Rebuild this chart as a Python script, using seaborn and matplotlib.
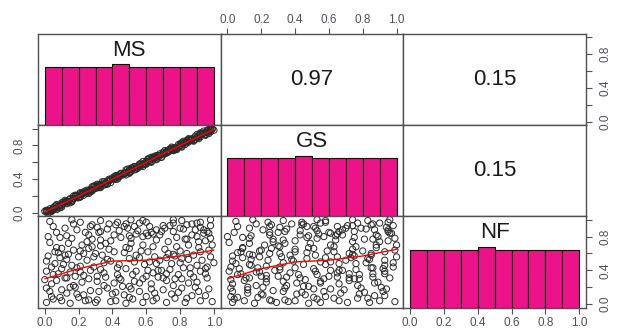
import pandas as pd
import seaborn as sns
import matplotlib.pyplot as plt

sns.set_theme(style="white")
plt.rcParams["font.family"] = ["Liberation Sans", "DejaVu Sans"]

var_names = ["MS", "GS", "NF"]
corr_labels = {("MS", "GS"): "0.97", ("MS", "NF"): "0.15", ("GS", "NF"): "0.15"}

# histogram bins and counts
bin_edges = [0.0, 0.1, 0.2, 0.3, 0.4, 0.5, 0.6, 0.7, 0.8, 0.9, 1.0]
ms_counts = [20, 20, 20, 20, 21, 20, 20, 20, 20, 20]
gs_counts = [20, 20, 20, 20, 21, 20, 20, 20, 20, 20]
nf_counts = [20, 20, 20, 20, 21, 20, 20, 20, 20, 20]

# scatter values
ms = [.03, .16, .21, .28, .33, .43, .48, .51, .56, .58, .70, .76, .81, .87, .92, .98, .98,
      .12, .07, .19, .26, .31, .33, .37, .42, .44, .49, .53, .54, .60, .63, .66, .76, .82, .84, .89, .92, .96, .94,
      .03, .09, .13, .16, .25, .28, .33, .39, .50, .51, .58, .61, .66, .68, .73, .78, .84, .90, .95, .98,
      .02, .08, .07, .14, .17, .21, .26, .30, .33, .38, .41, .47, .50, .54, .61, .64, .71, .76, .80, .84, .91, .97,
      .01, .06, .09, .13, .16, .21, .25, .29, .35, .39, .44, .50, .56, .62, .66, .72, .77, .80, .85, .90, 1.0,
      .01, .05, .10, .15, .19, .23, .27, .33, .35, .43, .48, .54, .60, .64, .69, .74, .79, .86, .92, .95,
      0.0, .04, .07, .13, .17, .22, .26, .31, .36, .41, .45, .50, .53, .58, .63, .67, .72, .76, .81, .85, .90, .96,
      .01, .04, .10, .13, .18, .23, .27, .32, .37, .42, .47, .51, .56, .60, .65, .70, .75, .81, .87, .91, .97,
      .01, .05, .10, .15, .20, .24, .30, .31, .42, .48, .52, .58, .64, .72, .77, .83, .92, .99,
      .06, .10, .12, .04, .08, .12, .15, .18, .20, .22, .24, .27,
      .29, .31, .34, .36, .38, .40, .43, .45, .46, .48, .52, .55,
      .57, .59, .62, .63, .65, .67, .69, .70, .73, .74, .75, .78,
      .79, .80, .82, .83, .86, .87, .88, .89, .91, .93, .94, .95,
      .96, .97, .99,
      .02, .03, .05, .09, .11, .14, .17, .19, .21,
      .23, .26, .28, .32, .35, .37, .39, .41, .44, .47, .50, .51,
      .53, .56, .58, .60, .61, .64, .66, .68, .71, .72, .76, .77,
      .81, .84, .85, .88, .90, .92, .95, .98]

gs = [.05, .15, .24, .26, .33, .44, .45, .53, .55, .58, .71, .74, .83, .86, .95, .96, .98,
      .13, .04, .21, .25, .31, .34, .35, .44, .43, .52, .51, .54, .61, .60, .68, .75, .82, .85, .87, .94, .95, .97,
      .01, .09, .14, .13, .27, .27, .33, .40, .48, .53, .57, .64, .64, .68, .74, .75, .86, .89, .95, .99,
      .03, .06, .09, .13, .20, .19, .26, .31, .30, .40, .40, .47, .51, .52, .63, .63, .74, .74, .80, .85, .88, .99,
      .03, .05, .09, .14, .14, .23, .24, .32, .33, .39, .45, .47, .58, .61, .66, .73, .75, .82, .84, .93, .98,
      .01, .06, .07, .17, .18, .23, .28, .31, .37, .42, .51, .52, .60, .65, .66, .76, .78, .86, .93, .93,
      .02, .03, .10, .11, .17, .23, .23, .33, .35, .41, .46, .48, .55, .57, .66, .65, .72, .77, .78, .87, .89, .96,
      .02, .02, .12, .12, .21, .21, .27, .33, .34, .44, .46, .51, .57, .58, .67, .69, .78, .79, .87, .92, .94,
      .03, .04, .10, .16, .18, .26, .29, .34, .40, .48, .53, .55, .66, .71, .77, .84, .90, .99,
      .08, .09, .15, .02, .08, .13, .12, .20, .19, .22, .25, .25,
      .31, .30, .37, .34, .38, .41, .40, .47, .45, .48, .53, .53,
      .59, .58, .65, .61, .65, .68, .66, .72, .72, .74, .76, .76,
      .81, .79, .85, .81, .86, .88, .85, .91, .90, .93, .95, .93,
      .98, .96, 1.0,
      .00, .03, .06, .06, .13, .13, .17, .20, .19,
      .25, .25, .31, .30, .35, .38, .36, .43, .43, .47, .51, .49,
      .55, .55, .61, .58, .61, .65, .63, .70, .70, .72, .77, .75,
      .83, .83, .88, .86, .90, .93, .92, 1.0]

nf = [.98, 1.0, .97, .94, .99, .97, .95, 1.0, .96, .99, .93, 1.0, .99, .95, .97, 1.0, .93,
      .90, .85, .88, .82, .91, .86, .89, .94, .87, .90, .92, .83, .84, .85, .88, .86, .89, .94, .88, .91, .86, .84,
      .73, .79, .81, .78, .74, .77, .76, .75, .81, .78, .80, .81, .76, .82, .74, .79, .77, .80, .75, .78,
      .57, .61, .67, .59, .64, .63, .66, .60, .69, .65, .62, .61, .66, .58, .62, .68, .65, .59, .63, .60, .67, .64,
      .51, .48, .55, .53, .46, .45, .52, .56, .49, .51, .47, .54, .55, .50, .48, .55, .57, .49, .53, .46, .49,
      .39, .35, .42, .38, .43, .34, .40, .41, .37, .35, .42, .39, .33, .37, .40, .41, .35, .43, .39, .36,
      .29, .24, .28, .31, .22, .26, .30, .27, .32, .25, .29, .21, .27, .30, .24, .32, .28, .22, .30, .25, .26, .31,
      .19, .09, .17, .13, .20, .11, .16, .15, .19, .14, .11, .18, .15, .09, .13, .17, .12, .19, .10, .15, .18,
      .02, .06, .04, .01, .08, .04, .02, .05, .04, .01, .06, .02, .04, .02, .07, .02, .04, .03,
      .62, .66, .58, .44, .36, .31, .20, .33, .56, .70, .85, .92,
      .44, .33, .58, .72, .95, .12, .43, .79, .21, .67, .35, .87,
      .63, .47, .92, .18, .56, .40, .86, .31, .60, .93, .48, .68,
      .14, .90, .43, .77, .36, .82, .58, .20, .74, .52, .88, .10,
      .44, .84, .70,
      .80, .15, .92, .08, .47, .72, .95, .12, .38,
      .60, .05, .68, .85, .22, .53, .03, .82, .31, .92, .08, .72,
      .50, .25, .70, .97, .40, .83, .07, .52, .90, .36, .96, .30,
      .54, .07, .70, .32, .96, .62, .42, .56]

# smooth (red) lines
fit_x = [0.0, 0.2, 0.4, 0.6, 0.8, 1.0]
ms_gs_fit = [0.01, 0.20, 0.40, 0.60, 0.80, 0.99]
ms_nf_fit = [0.30, 0.42, 0.51, 0.52, 0.57, 0.64]
gs_nf_fit = [0.30, 0.42, 0.50, 0.52, 0.57, 0.65]

tick_vals = [0.0, 0.2, 0.4, 0.6, 0.8, 1.0]
x_tick_labels = ["0.0", "0.2", "0.4", "0.6", "0.8", "1.0"]
y_tick_labels = ["0.0", "", "0.4", "", "0.8", ""]

pink = "#EC1389"
frame_col = "#505050"
tick_col = "#50505a"

df = pd.DataFrame({"MS": ms, "GS": gs, "NF": nf})
counts = {"MS": ms_counts, "GS": gs_counts, "NF": nf_counts}
fits = {("MS", "GS"): ms_gs_fit, ("MS", "NF"): ms_nf_fit, ("GS", "NF"): gs_nf_fit}
centers = [(a + b) / 2 for a, b in zip(bin_edges[:-1], bin_edges[1:])]

fig, axes = plt.subplots(3, 3, figsize=(6.19, 3.34), dpi=100)
fig.subplots_adjust(left=38 / 619, right=586 / 619, bottom=1 - 307.5 / 334,
                    top=1 - 34 / 334, wspace=0, hspace=0)

for i, yv in enumerate(var_names):
    for j, xv in enumerate(var_names):
        ax = axes[i, j]
        if i == j:
            axh = ax.twinx()
            sns.histplot(x=centers, weights=counts[xv], bins=bin_edges, ax=axh,
                         color=pink, edgecolor="black", linewidth=0.8, alpha=1)
            axh.set_ylim(0, max(counts[xv]) * 1.5)
            axh.set_yticks([])
            axh.set_ylabel("")
            for s in axh.spines.values():
                s.set_visible(False)
            ax.text(0.5, 0.82, xv, transform=ax.transAxes, ha="center", va="center",
                    fontsize=16, color="#1a1a1a")
        elif i < j:
            ax.text(0.5, 0.5, corr_labels[(yv, xv)], transform=ax.transAxes,
                    ha="center", va="center", fontsize=16, color="#1a1a1a")
        else:
            sns.scatterplot(x=df[xv], y=df[yv], ax=ax, facecolors="none",
                            edgecolor="#2a2a2a", s=20, linewidth=0.7)
            sns.lineplot(x=fit_x, y=fits[(xv, yv)], ax=ax, color="red", linewidth=1)
        ax.set_xlim(-0.04, 1.04)
        ax.set_ylim(-0.04, 1.04)
        ax.set_xlabel("")
        ax.set_ylabel("")
        ax.set_xticks([])
        ax.set_yticks([])
        for s in ax.spines.values():
            s.set_color(frame_col)
            s.set_linewidth(1.0)

tick_kw = dict(length=4, width=0.8, color=frame_col, labelsize=8.5, labelcolor=tick_col)

# top axis on middle column
ax = axes[0, 1]
ax.set_xticks(tick_vals, x_tick_labels)
ax.tick_params(axis="x", top=True, labeltop=True, bottom=False, labelbottom=False, pad=2, **tick_kw)

# bottom axes on outer columns
for ax in [axes[2, 0], axes[2, 2]]:
    ax.set_xticks(tick_vals, x_tick_labels)
    ax.tick_params(axis="x", bottom=True, labelbottom=True, pad=3, **tick_kw)

# left axis on middle row
ax = axes[1, 0]
ax.set_yticks(tick_vals, y_tick_labels, rotation=90, va="center")
ax.tick_params(axis="y", left=True, labelleft=True, right=False, labelright=False, pad=5, **tick_kw)

# right axes on outer rows
for ax in [axes[0, 2], axes[2, 2]]:
    ax.set_yticks(tick_vals, y_tick_labels, rotation=90, va="center")
    ax.tick_params(axis="y", right=True, labelright=True, left=False, labelleft=False, pad=6, **tick_kw)

fig.savefig("out.png", dpi=100)
